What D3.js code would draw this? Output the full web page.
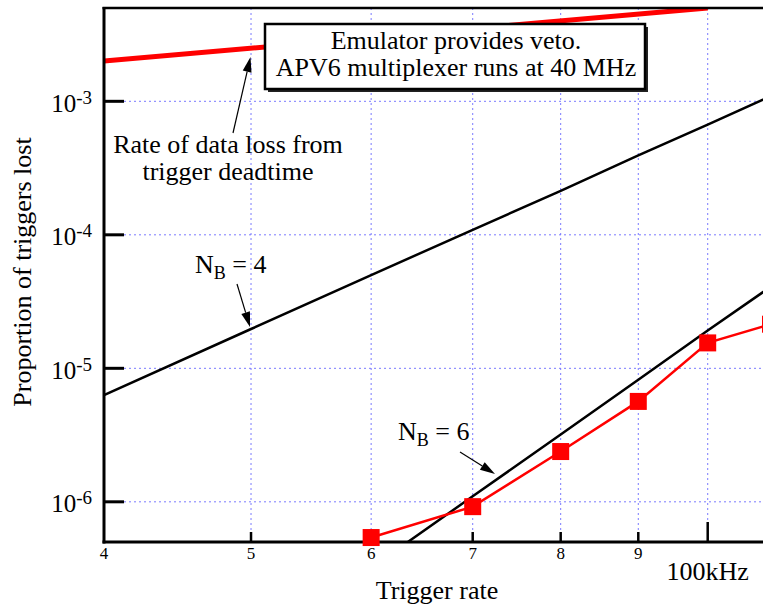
<!DOCTYPE html>
<html>
<head>
<meta charset="utf-8">
<script src="https://cdn.jsdelivr.net/npm/d3@7"></script>
<style>
  html, body { margin: 0; padding: 0; background: #fff; }
  svg { display: block; }
</style>
</head>
<body>
<svg id="chart" width="763" height="606"></svg>
<script>
// ---- data ----
const xMinorTicks = [5, 6, 7, 8, 9];
const xTickLabels = ["4", "5", "6", "7", "8", "9"];
const xTickValues = [4, 5, 6, 7, 8, 9];
const xMajorLabel = "100kHz";
const yDecades = [1e-3, 1e-4, 1e-5, 1e-6];
const yExponents = ["-3", "-4", "-5", "-6"];

// measured (red squares)
const measuredRate = [6, 7, 8, 9, 10, 11];
const measuredLost = [5.4e-7, 9.2e-7, 2.38e-6, 5.65e-6, 1.55e-5, 2.14e-5];

// N_B = 4 curve
const nb4Rate = [4, 5, 6, 7, 8, 9, 10, 11];
const nb4Lost = [6.3e-6, 1.97e-5, 4.99e-5, 1.09e-4, 2.13e-4, 3.93e-4, 6.7e-4, 1.09e-3];

// N_B = 6 curve
const nb6Rate = [6, 7, 8, 9, 10, 11];
const nb6Lost = [3.2e-7, 1.1e-6, 3.19e-6, 8.2e-6, 1.92e-5, 4.07e-5];

// data loss from trigger deadtime (thick red)
const deadRate = [4, 10];
const deadLost = [2.0e-3, 5.0e-3];

// ---- drawing ----
const FONT = "Liberation Serif";
const svg = d3.select("#chart");
const L = 104, R = 770.5, T = 8, B = 542;
const x = d3.scaleLog().domain([4, 11]).range([L, R]);
const y = d3.scaleLog().domain([5e-7, 5e-3]).range([B, T]);

svg.append("defs").append("clipPath").attr("id", "plot")
  .append("rect").attr("x", L).attr("y", T).attr("width", R - L).attr("height", B - T);

// grid
const grid = svg.append("g").attr("stroke", "#7a7aff").attr("stroke-width", 1)
  .attr("stroke-dasharray", "2,3");
[5, 6, 7, 8, 9, 10].forEach(v => {
  grid.append("line").attr("x1", x(v)).attr("x2", x(v)).attr("y1", T).attr("y2", B);
});
yDecades.forEach(v => {
  grid.append("line").attr("x1", L).attr("x2", R).attr("y1", y(v)).attr("y2", y(v));
});

const plot = svg.append("g").attr("clip-path", "url(#plot)");
const line = d3.line().x(d => x(d[0])).y(d => y(d[1]));

// thick red deadtime line
plot.append("path").datum(d3.zip(deadRate, deadLost)).attr("d", line)
  .attr("fill", "none").attr("stroke", "#ff0000").attr("stroke-width", 5);

// N_B curves
plot.append("path").datum(d3.zip(nb4Rate, nb4Lost)).attr("d", line)
  .attr("fill", "none").attr("stroke", "#000").attr("stroke-width", 2.5);
plot.append("path").datum(d3.zip(nb6Rate, nb6Lost)).attr("d", line)
  .attr("fill", "none").attr("stroke", "#000").attr("stroke-width", 2.5);

// measured
plot.append("path").datum(d3.zip(measuredRate, measuredLost)).attr("d", line)
  .attr("fill", "none").attr("stroke", "#ff0000").attr("stroke-width", 2.5);

// axes lines
const ax = svg.append("g").attr("stroke", "#000");
ax.append("line").attr("x1", L).attr("x2", L).attr("y1", T - 1).attr("y2", B + 1.5).attr("stroke-width", 3);
ax.append("line").attr("x1", L - 1.5).attr("x2", 763).attr("y1", B).attr("y2", B).attr("stroke-width", 3);
ax.append("line").attr("x1", L - 1.5).attr("x2", 763).attr("y1", T).attr("y2", T).attr("stroke-width", 2.5);

// y ticks
yDecades.forEach(v => {
  ax.append("line").attr("x1", L).attr("x2", L + 20).attr("y1", y(v)).attr("y2", y(v)).attr("stroke-width", 3);
});
// x ticks
xMinorTicks.forEach(v => {
  ax.append("line").attr("x1", x(v)).attr("x2", x(v)).attr("y1", B).attr("y2", B - 10).attr("stroke-width", 2.5);
});
ax.append("line").attr("x1", x(10)).attr("x2", x(10)).attr("y1", B).attr("y2", B - 20).attr("stroke-width", 2.5);

// measured markers (not clipped)
svg.append("g").selectAll("rect").data(d3.zip(measuredRate, measuredLost)).join("rect")
  .attr("x", d => x(d[0]) - 8.5).attr("y", d => y(d[1]) - 8.5)
  .attr("width", 17).attr("height", 17).attr("fill", "#ff0000");

function txt(sel) { return sel.style("font-family", FONT).attr("fill", "#000"); }

// y tick labels
yDecades.forEach((v, i) => {
  const t = txt(svg.append("text")).attr("x", 92).attr("y", y(v) + 10.5)
    .attr("text-anchor", "end").attr("font-size", 25);
  t.append("tspan").text("10");
  t.append("tspan").attr("font-size", 19).attr("dy", -8).text(yExponents[i]);
});

// x tick labels
xTickValues.forEach((v, i) => {
  txt(svg.append("text")).attr("x", x(v)).attr("y", 559).attr("text-anchor", "middle")
    .attr("font-size", 17).text(xTickLabels[i]);
});
txt(svg.append("text")).attr("x", x(10)).attr("y", 580).attr("text-anchor", "middle")
  .attr("font-size", 26).text(xMajorLabel);

// axis titles
txt(svg.append("text")).attr("x", 437).attr("y", 599).attr("text-anchor", "middle")
  .attr("font-size", 26).text("Trigger rate");
txt(svg.append("text")).attr("transform", "translate(31,272) rotate(-90)")
  .attr("text-anchor", "middle").attr("font-size", 26).text("Proportion of triggers lost");

// text box
svg.append("rect").attr("x", 268).attr("y", 27).attr("width", 380).attr("height", 65)
  .attr("fill", "#222");
svg.append("rect").attr("x", 265).attr("y", 24).attr("width", 380).attr("height", 65)
  .attr("fill", "#fff").attr("stroke", "#000").attr("stroke-width", 2.5);
txt(svg.append("text")).attr("x", 456).attr("y", 49).attr("text-anchor", "middle")
  .attr("font-size", 26).text("Emulator provides veto.");
txt(svg.append("text")).attr("x", 456).attr("y", 76).attr("text-anchor", "middle")
  .attr("font-size", 26).text("APV6 multiplexer runs at 40 MHz");

// arrows
function arrow(x1, y1, x2, y2) {
  const g = svg.append("g");
  const dx = x2 - x1, dy = y2 - y1, len = Math.hypot(dx, dy);
  const ux = dx / len, uy = dy / len;
  const hl = 15, hw = 4.5;
  const bx = x2 - ux * hl, by = y2 - uy * hl;
  g.append("line").attr("x1", x1).attr("y1", y1).attr("x2", bx).attr("y2", by)
    .attr("stroke", "#000").attr("stroke-width", 1.2);
  g.append("path").attr("d",
    `M${x2},${y2}L${bx - uy * hw},${by + ux * hw}L${bx + uy * hw},${by - ux * hw}Z`)
    .attr("fill", "#000");
}
arrow(233, 133, 250.5, 57);
arrow(237, 284, 250, 327);
arrow(460, 452, 495, 474);

// annotation texts
txt(svg.append("text")).attr("x", 228).attr("y", 153).attr("text-anchor", "middle")
  .attr("font-size", 26).text("Rate of data loss from");
txt(svg.append("text")).attr("x", 228).attr("y", 180).attr("text-anchor", "middle")
  .attr("font-size", 26).text("trigger deadtime");

function nbLabel(px, py, n) {
  const t = txt(svg.append("text")).attr("x", px).attr("y", py).attr("font-size", 26);
  t.append("tspan").text("N");
  t.append("tspan").attr("font-size", 18).attr("dy", 6).text("B");
  t.append("tspan").attr("dy", -6).text(" = " + n);
}
nbLabel(195, 273, "4");
nbLabel(398, 440, "6");
</script>
</body>
</html>
